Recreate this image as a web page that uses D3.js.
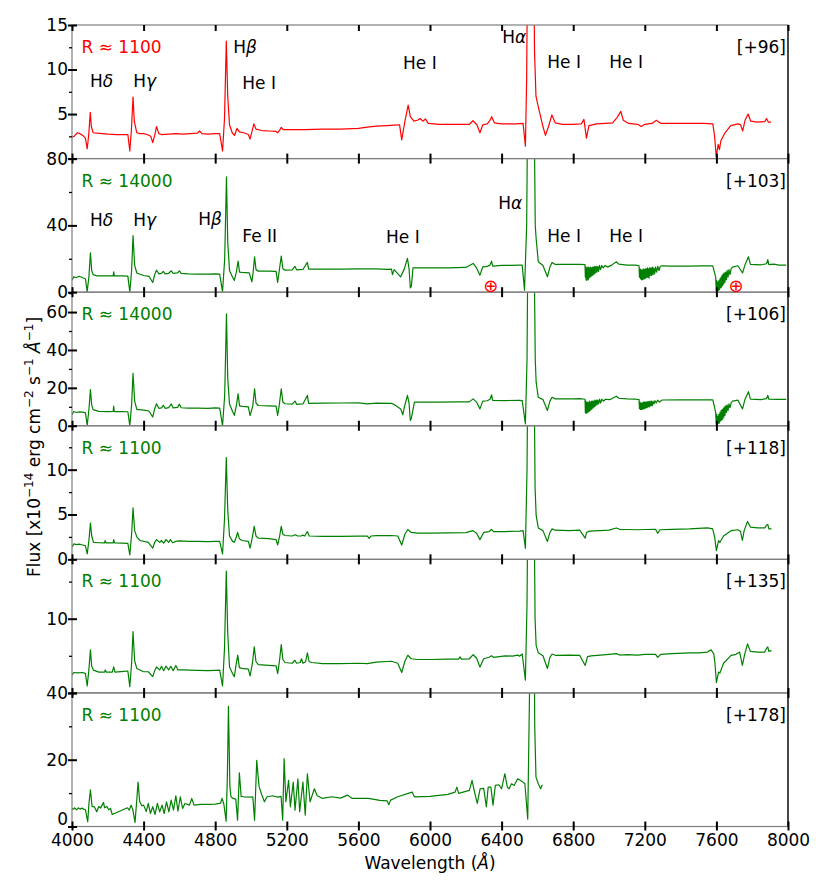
<!DOCTYPE html>
<html><head><meta charset="utf-8">
<script src="https://cdn.jsdelivr.net/npm/d3@7/dist/d3.min.js"></script>
<style>
body{margin:0;background:#fff;}
svg text{font-family:"DejaVu Sans",sans-serif;}
</style></head><body>
<svg id="chart" width="830" height="894"></svg>
<script>
// ---------------- DATA ----------------
const xTicks = [4000,4400,4800,5200,5600,6000,6400,6800,7200,7600,8000];
const resLabels = ["R \u2248 1100","R \u2248 14000","R \u2248 14000","R \u2248 1100","R \u2248 1100","R \u2248 1100"];
const epochLabels = ["[+96]","[+103]","[+106]","[+118]","[+135]","[+178]"];
const yMax = [15, 80, 70.5, 14.9, 18, 40];
const yMajor = [[0,5,10,15],[0,40,80],[0,20,40,60],[0,5,10],[0,10],[0,20,40]];
const yMinor = [[2.5,7.5,12.5],[20,60],[10,30,50,70],[2.5,7.5,12.5],[5,15],[10,30]];
const telluricWl = [6340, 7710];

const spec96 = [[4000,2.4],[4012,2.5],[4030,2.9],[4045,2.8],[4060,2.6],[4075,2.3],[4085,1.1],[4094,2.8],[4102,5.2],[4108,3.6],[4118,2.9],[4140,2.85],[4170,2.8],[4200,2.75],[4250,2.7],[4290,2.7],[4312,2.7],[4323,0.85],[4332,3.3],[4341,6.9],[4348,4.2],[4362,2.9],[4380,2.8],[4400,2.8],[4420,2.7],[4440,2.5],[4451,1.8],[4462,2.6],[4472,3.6],[4485,2.8],[4500,2.7],[4540,2.75],[4580,2.8],[4620,2.75],[4660,2.8],[4700,2.85],[4713,3.1],[4725,2.8],[4760,2.75],[4800,2.8],[4825,2.8],[4841,0.85],[4852,4.5],[4862,13.2],[4870,7.0],[4880,3.8],[4895,2.9],[4908,2.6],[4922,3.4],[4935,3.0],[4960,2.9],[4985,2.7],[4995,2.2],[5005,3.0],[5016,3.9],[5028,3.3],[5060,3.15],[5100,3.1],[5140,3.05],[5150,2.9],[5160,3.2],[5169,3.5],[5180,3.25],[5220,3.25],[5300,3.25],[5400,3.3],[5500,3.3],[5600,3.4],[5660,3.55],[5700,3.65],[5760,3.7],[5800,3.75],[5830,3.8],[5842,2.1],[5860,4.2],[5878,6.0],[5890,4.7],[5910,4.2],[5930,4.3],[5945,4.5],[5960,4.2],[5975,4.45],[5990,3.95],[6050,3.85],[6150,3.85],[6220,3.85],[6240,4.25],[6262,3.8],[6279,2.9],[6295,3.8],[6320,3.9],[6335,4.3],[6345,4.7],[6360,4.0],[6400,3.9],[6480,3.9],[6520,3.95],[6533,1.4],[6540,9],[6546,25],[6578,25],[6584,12],[6592,7.0],[6605,5.8],[6618,4.7],[6631,3.6],[6645,2.6],[6662,3.6],[6681,4.9],[6700,4.0],[6740,3.85],[6800,3.85],[6845,3.9],[6860,4.4],[6874,2.3],[6888,3.7],[6930,3.9],[6980,3.95],[7020,4.0],[7045,4.6],[7066,5.3],[7080,4.3],[7110,3.95],[7160,3.85],[7180,3.6],[7200,3.85],[7240,3.95],[7265,4.3],[7290,3.95],[7350,3.95],[7450,3.95],[7530,3.95],[7580,3.9],[7590,2.5],[7599,0.2],[7610,1.6],[7617,1.0],[7625,2.0],[7645,2.8],[7680,3.7],[7720,3.9],[7735,3.8],[7747,3.1],[7760,4.3],[7777,5.0],[7792,4.2],[7830,4.1],[7870,4.15],[7880,4.5],[7890,4.1],[7905,4.1]];

const spec103 = [[4000,7.2],[4010,9.2],[4025,8.8],[4040,9.5],[4060,8.6],[4075,8.0],[4085,0.3],[4095,10],[4103,23.6],[4110,13],[4118,10.5],[4140,9.8],[4180,9.8],[4200,9.7],[4230,9.8],[4233,12.2],[4236,9.8],[4280,9.7],[4312,9.6],[4323,0.2],[4333,13],[4341,33.9],[4350,16],[4362,11.5],[4400,10],[4430,9.5],[4451,5.8],[4462,10.5],[4472,13.2],[4485,11.0],[4500,11.2],[4510,12.5],[4520,11],[4540,11.3],[4555,12.8],[4565,11.2],[4590,11.5],[4600,12.8],[4610,11.3],[4650,11],[4700,10.8],[4760,10.8],[4800,11],[4825,10.8],[4841,0.2],[4853,20],[4863,69],[4870,30],[4880,13],[4897,9.0],[4907,7.0],[4918,12],[4928,18.6],[4936,12],[4950,11.8],[4990,11.6],[5005,6.2],[5012,12],[5020,21.2],[5028,13.5],[5041,12.6],[5100,12.6],[5140,12.4],[5149,5.8],[5158,13],[5169,21.6],[5178,14],[5190,13.2],[5230,13.4],[5245,15.5],[5255,13.4],[5290,13.6],[5315,17.8],[5322,13.8],[5400,13.8],[5500,13.8],[5600,14],[5700,14],[5760,13.6],[5785,13.8],[5790,10.5],[5800,13.5],[5836,9.2],[5856,13.8],[5874,20.2],[5883,14],[5890,2.6],[5896,3.5],[5905,14.5],[5940,14.6],[6000,14.6],[6100,14.6],[6200,14.8],[6241,17.2],[6260,14.5],[6279,10.2],[6295,15.2],[6320,15.4],[6335,16.2],[6344,18.6],[6350,15.6],[6400,16],[6450,16],[6500,16.2],[6515,16.2],[6528,1.2],[6540,40],[6547,130],[6580,130],[6588,40],[6593,32],[6605,18.2],[6631,16],[6656,9.2],[6670,15],[6682,17.8],[6700,16.6],[6780,16.6],[6836,16.6],[6866,16.5],[6868,9],[6870,15],[6872,7.5],[6874,14],[6876,7],[6878,15],[6880,8],[6882,14],[6884,7.5],[6886,15],[6888,8.5],[6891,14.5],[6894,9],[6897,15],[6900,9.5],[6903,14.5],[6906,10],[6909,15],[6912,10.5],[6915,15],[6918,11],[6921,15.5],[6925,11.5],[6929,15.5],[6933,12],[6937,15.5],[6942,12.5],[6947,16],[6953,13.5],[6960,16],[6968,14.5],[6978,16],[6992,15],[7015,16.2],[7041,18.2],[7055,16.8],[7100,16.2],[7150,16.2],[7168,15.8],[7170,9],[7173,14],[7176,8],[7179,13.5],[7182,7.5],[7185,13],[7188,7.5],[7191,14],[7194,8],[7197,13.5],[7200,8],[7203,14],[7206,8.5],[7209,14],[7212,9],[7215,14.5],[7218,9],[7221,14],[7224,8.5],[7227,14.5],[7230,10],[7234,14.5],[7238,10],[7242,15],[7246,10.5],[7250,14.5],[7255,11],[7260,15],[7266,12],[7272,15.5],[7279,13],[7287,15.5],[7297,15.8],[7350,15.6],[7450,15.6],[7520,15.8],[7580,15.8],[7596,9],[7599,1],[7602,7],[7605,0.5],[7608,6],[7611,1],[7614,7],[7617,1.5],[7620,8],[7623,2.5],[7626,9],[7629,3],[7632,10],[7635,4],[7638,11],[7641,5],[7644,11.5],[7648,6],[7652,12],[7656,7.5],[7660,13],[7665,9],[7670,13.5],[7676,10.5],[7682,14],[7690,15],[7720,15.8],[7746,11.5],[7760,16.5],[7779,21.2],[7790,16.6],[7850,16.4],[7880,17],[7887,19.5],[7893,16.5],[7920,16.8],[7950,16.2],[7990,16.2]];

const spec106 = [[4000,5.8],[4010,7.5],[4025,7.0],[4040,7.3],[4060,7.2],[4075,6.8],[4085,0.2],[4095,9],[4103,19.1],[4110,11],[4118,8.5],[4150,7.6],[4200,7.5],[4230,7.6],[4233,10.4],[4236,7.5],[4280,7.5],[4312,7.4],[4323,0.1],[4333,11],[4341,27.7],[4350,13],[4362,8.6],[4400,8.2],[4430,7.8],[4451,4.6],[4462,9],[4472,11.6],[4485,9.2],[4500,9.4],[4510,10.8],[4520,9.2],[4540,9.6],[4555,11.5],[4565,9.4],[4590,9.7],[4600,11.4],[4610,9.5],[4650,9.3],[4700,9.3],[4760,9.2],[4800,9.4],[4825,9.3],[4841,0.1],[4853,16],[4863,59],[4870,25],[4880,11.5],[4897,7.5],[4907,5.5],[4918,10.5],[4928,16.8],[4936,10.5],[4950,10.2],[4985,10],[4995,5.4],[5010,10.5],[5020,19.5],[5028,12],[5041,10.7],[5100,10.5],[5140,10.4],[5149,5.4],[5158,11],[5169,19.5],[5178,12.5],[5190,11.6],[5230,11.4],[5246,13],[5255,11.3],[5290,11.5],[5315,16],[5322,11.8],[5400,11.9],[5500,12],[5600,12.1],[5650,11.5],[5700,11.9],[5785,11.8],[5800,11.2],[5836,8.9],[5848,5.8],[5856,9.5],[5874,16],[5883,12],[5890,2.8],[5896,4],[5913,12.5],[5950,12.5],[6050,12.5],[6150,12.6],[6220,12.6],[6241,14.2],[6260,12.5],[6279,8.9],[6295,13],[6320,13.2],[6335,14],[6344,16.3],[6350,13.4],[6420,13.3],[6500,13.4],[6515,13.3],[6533,1],[6542,35],[6548,110],[6580,110],[6588,35],[6593,23],[6605,15],[6631,13.8],[6656,8.1],[6670,13],[6682,15],[6700,14.2],[6800,14.2],[6836,14.3],[6866,14],[6868,7],[6870,13],[6872,6.5],[6874,12.5],[6876,6.8],[6878,12],[6880,7],[6882,12.5],[6884,7.5],[6886,12],[6888,7.5],[6891,13],[6894,8],[6897,12.5],[6900,8.5],[6903,13],[6906,9],[6909,13],[6912,9.5],[6915,13],[6918,10],[6921,13.5],[6925,10.5],[6929,13.5],[6933,11],[6937,13.5],[6942,11.5],[6947,14],[6953,12],[6960,14],[6970,13],[6980,14],[7000,13.8],[7015,14.2],[7041,15.6],[7055,14.5],[7100,14.2],[7150,14],[7168,13.8],[7170,9],[7173,12.5],[7176,8.6],[7179,12],[7182,8.6],[7185,12],[7188,8.8],[7191,12.5],[7194,9],[7197,12.5],[7200,9],[7203,12.5],[7206,9.5],[7209,12.5],[7212,9.5],[7215,12.8],[7218,10],[7221,12.8],[7225,10],[7229,13],[7233,10.5],[7237,13],[7241,10.5],[7246,13],[7251,11.5],[7257,13.2],[7264,12],[7272,13.5],[7282,12.5],[7297,13.6],[7400,13.7],[7500,13.7],[7580,13.7],[7596,7],[7599,1],[7602,6],[7605,0.8],[7608,5],[7611,1.2],[7614,6],[7617,1.5],[7620,7],[7623,2.5],[7626,8],[7629,3],[7632,8.5],[7635,3.5],[7638,9],[7641,4.5],[7644,10],[7648,5.5],[7652,10.5],[7656,7],[7660,11],[7665,8],[7670,11.5],[7676,9.5],[7682,12],[7690,13],[7720,13.5],[7746,8.9],[7760,14],[7779,18],[7790,14],[7850,13.8],[7880,14.3],[7887,16],[7893,14],[7940,13.9],[7990,13.9]];

const spec118 = [[4000,1.35],[4010,1.72],[4025,1.65],[4040,1.7],[4060,1.6],[4075,1.5],[4085,0.6],[4095,2.2],[4103,4.05],[4110,2.6],[4120,1.9],[4150,1.85],[4182,1.83],[4185,2.1],[4190,1.83],[4230,1.83],[4233,2.2],[4238,1.83],[4280,1.8],[4312,1.78],[4323,0.49],[4333,2.8],[4341,5.73],[4350,3.2],[4362,2.5],[4380,2.1],[4426,1.9],[4451,1.24],[4462,1.9],[4472,2.2],[4490,1.9],[4500,2.1],[4512,1.8],[4525,2.2],[4540,1.9],[4550,2.2],[4562,1.85],[4580,2.0],[4600,2.05],[4650,2.0],[4700,2.0],[4760,1.98],[4800,2.0],[4825,2.0],[4841,0.6],[4852,4.5],[4862,11.35],[4870,5.5],[4880,2.6],[4897,2.0],[4907,1.9],[4918,2.5],[4925,3.0],[4935,2.3],[4950,2.1],[4985,2.0],[4995,1.24],[5008,2.5],[5018,3.67],[5028,2.6],[5041,2.36],[5100,2.3],[5140,2.2],[5149,1.6],[5160,2.6],[5169,3.67],[5178,2.8],[5190,2.66],[5230,2.6],[5248,2.75],[5260,2.6],[5280,2.6],[5290,2.7],[5300,2.6],[5315,3.1],[5325,2.6],[5400,2.55],[5500,2.55],[5600,2.58],[5650,2.6],[5660,2.35],[5670,2.6],[5700,2.65],[5785,2.66],[5820,2.6],[5842,1.6],[5860,2.8],[5876,3.33],[5895,3.0],[5930,2.92],[6000,2.92],[6100,2.95],[6200,2.98],[6240,3.2],[6260,2.9],[6279,2.2],[6300,3.0],[6330,3.1],[6344,3.33],[6355,3.1],[6420,3.1],[6500,3.15],[6520,3.2],[6533,1.24],[6542,10],[6548,25],[6580,25],[6587,8],[6593,4.9],[6605,3.5],[6631,3.2],[6656,2.0],[6670,3.0],[6682,3.4],[6700,3.25],[6780,3.2],[6836,3.25],[6867,2.36],[6875,3.0],[6890,3.15],[6950,3.2],[7000,3.25],[7041,3.5],[7060,3.35],[7100,3.33],[7160,3.3],[7200,3.33],[7260,3.35],[7272,2.9],[7285,3.3],[7350,3.35],[7450,3.4],[7500,3.45],[7550,3.5],[7579,3.4],[7590,2.5],[7600,0.97],[7612,2.1],[7620,1.9],[7640,2.6],[7682,3.2],[7720,3.3],[7735,3.1],[7745,2.1],[7755,3.2],[7774,4.23],[7790,3.6],[7830,3.5],[7870,3.5],[7880,3.8],[7887,3.9],[7893,3.4],[7908,3.4]];

const spec135 = [[4000,2.4],[4010,2.75],[4030,2.7],[4060,2.75],[4075,2.6],[4085,0.93],[4095,3.3],[4103,5.8],[4110,3.6],[4120,3.07],[4150,2.8],[4182,2.8],[4186,3.1],[4192,2.8],[4225,2.8],[4233,3.5],[4240,2.8],[4290,2.9],[4312,2.95],[4323,0.84],[4333,4.0],[4341,8.27],[4350,4.3],[4362,3.3],[4400,2.85],[4426,2.85],[4451,2.2],[4462,3.0],[4472,3.5],[4490,3.1],[4500,3.6],[4512,3.0],[4525,3.6],[4540,3.1],[4552,3.6],[4565,3.0],[4580,3.7],[4592,3.1],[4620,3.1],[4660,3.07],[4700,3.05],[4760,3.0],[4800,3.05],[4825,3.07],[4841,0.93],[4852,6],[4862,16.4],[4870,8],[4880,3.5],[4897,2.6],[4907,2.2],[4918,4.0],[4926,5.1],[4935,3.4],[4950,3.3],[4985,3.2],[4995,2.3],[5008,4.0],[5018,6.2],[5028,4.2],[5041,3.8],[5100,3.7],[5140,3.65],[5149,2.6],[5160,4.5],[5169,6.5],[5178,4.5],[5190,4.1],[5230,4.0],[5245,4.4],[5255,4.0],[5275,4.1],[5282,4.6],[5290,4.0],[5305,4.2],[5315,5.4],[5325,4.2],[5340,4.1],[5400,3.95],[5500,3.95],[5600,4.0],[5650,3.95],[5700,4.15],[5785,4.27],[5820,4.0],[5842,2.75],[5860,4.3],[5876,5.07],[5895,4.6],[5930,4.5],[6000,4.5],[6100,4.55],[6160,4.55],[6168,4.85],[6176,4.55],[6220,4.6],[6241,5.15],[6260,4.7],[6279,3.5],[6300,4.6],[6330,4.8],[6344,5.0],[6355,4.8],[6420,5.0],[6460,4.95],[6490,5.1],[6500,4.95],[6515,5.25],[6533,1.73],[6542,12],[6548,30],[6580,30],[6587,10],[6593,6.4],[6605,5.4],[6631,5.0],[6656,3.3],[6670,4.8],[6682,5.24],[6700,5.07],[6780,5.1],[6836,5.07],[6867,3.7],[6880,4.9],[6900,5.0],[6950,5.1],[7000,5.2],[7041,5.3],[7060,5.1],[7100,5.15],[7160,5.1],[7200,5.2],[7260,5.2],[7272,4.8],[7290,5.2],[7350,5.3],[7450,5.4],[7500,5.4],[7550,5.5],[7570,5.8],[7585,5.3],[7592,4.0],[7600,1.4],[7612,2.8],[7620,2.7],[7640,4.0],[7682,5.07],[7710,5.2],[7730,5.5],[7745,3.7],[7758,5.2],[7774,6.6],[7790,5.6],[7830,5.5],[7870,5.5],[7880,6.0],[7887,6.2],[7893,5.6],[7908,5.7]];

const spec178 = [[4000,5.4],[4008,5.2],[4015,5.6],[4025,5.0],[4035,5.6],[4045,5.2],[4055,5.5],[4065,5.2],[4075,5.0],[4088,1.4],[4094,6.5],[4103,11.0],[4112,6.0],[4125,5.9],[4138,4.4],[4150,6.0],[4160,5.5],[4168,6.4],[4176,7.2],[4182,5.6],[4195,6.0],[4205,5.0],[4215,5.4],[4225,3.6],[4300,5.4],[4310,5.6],[4320,4.9],[4330,6.4],[4340,5.0],[4352,1.2],[4362,8],[4369,13.3],[4378,7.5],[4390,6.2],[4400,6.4],[4415,4.5],[4426,6.9],[4438,3.9],[4451,5.9],[4464,3.6],[4477,6.9],[4490,4.4],[4503,6.4],[4515,3.9],[4528,7.4],[4541,4.4],[4554,7.9],[4567,4.9],[4580,9.15],[4592,4.6],[4605,8.9],[4618,5.4],[4631,6.9],[4656,6.4],[4669,8.4],[4682,6.4],[4720,6.6],[4760,6.6],[4800,6.7],[4830,7.0],[4838,8.4],[4848,6.8],[4861,1.6],[4868,15],[4874,36],[4882,12],[4888,8.9],[4900,8.4],[4915,8.2],[4925,1.9],[4935,16.1],[4945,9],[4960,8.9],[5000,8.8],[5010,8.9],[5020,1.9],[5032,19.8],[5045,12],[5060,9.5],[5075,7.4],[5090,8.9],[5120,9.2],[5150,8.8],[5168,9.0],[5177,1.9],[5185,20.3],[5195,7.4],[5210,13.8],[5220,5.9],[5236,13.3],[5246,4.9],[5262,14.3],[5272,4.4],[5290,13.3],[5303,3.4],[5315,15.8],[5330,7.4],[5354,11.3],[5370,9.2],[5400,8.4],[5450,8.9],[5500,8.5],[5540,9.4],[5565,8.4],[5600,8.4],[5656,8.4],[5720,7.8],[5760,7.7],[5770,6.5],[5780,7.9],[5820,8.9],[5900,10.3],[5913,8.9],[6000,9.0],[6100,9.6],[6140,10.3],[6150,11.8],[6160,9.9],[6220,10.8],[6235,13.8],[6245,11.3],[6255,8.9],[6264,6.9],[6280,11.3],[6300,11.4],[6315,5.9],[6325,11.8],[6340,11.8],[6352,6.4],[6365,12.3],[6385,12.5],[6400,11.3],[6418,15.8],[6432,11.8],[6442,11.3],[6455,12.8],[6470,12.3],[6490,14.3],[6515,13.5],[6530,12.8],[6546,2.2],[6556,40],[6560,90],[6580,90],[6585,30],[6592,14.8],[6605,12.8],[6618,11.3],[6625,12.3],[6630,12.3]];

const spectra = [spec96, spec103, spec106, spec118, spec135, spec178];
const colors = ["#ff0000","#008000","#008000","#008000","#008000","#008000"];

// line identifications: [panel, text, greek(italic), x px, baseline offset from panel top]
const lineIds = [
  [0,"H","\u03b4",90,62],[0,"H","\u03b3",133.3,62],[0,"H","\u03b2",233.3,28],[0,"He I","",242.3,64],
  [0,"He I","",403,44],[0,"H","\u03b1",502.3,18],[0,"He I","",547.3,42.5],[0,"He I","",609.3,42.5],
  [1,"H","\u03b4",90,67.5],[1,"H","\u03b3",133.3,67.5],[1,"H","\u03b2",198.3,66.5],[1,"Fe II","",242.3,83.5],
  [1,"He I","",386,84.5],[1,"H","\u03b1",498.3,50],[1,"He I","",547.3,83.5],[1,"He I","",609.3,83.5]
];

// ---------------- LAYOUT ----------------
const svg = d3.select('#chart');
const X0 = 72, X1 = 788, TOP = 25, BOT = 826.5;
const NP = 6, PH = (BOT - TOP) / NP;
const FS = 17;
const x = d3.scaleLinear().domain([4000, 8000]).range([X0, X1]);
const defs = svg.append('defs');
const yScales = [];

spectra.forEach((spec, i) => {
  const top = TOP + i * PH, bot = top + PH;
  const y = d3.scaleLinear().domain([0, yMax[i]]).range([bot, top]);
  yScales.push(y);
  defs.append('clipPath').attr('id', 'clip' + i).append('rect')
    .attr('x', X0).attr('y', top).attr('width', X1 - X0).attr('height', PH);
  const line = d3.line().x(d => x(d[0])).y(d => y(d[1]));
  svg.append('path').datum(spec).attr('clip-path', `url(#clip${i})`)
    .attr('d', line).attr('fill', 'none').attr('stroke', colors[i])
    .attr('stroke-width', 1.2).attr('stroke-linejoin', 'round');
});

// frames
spectra.forEach((spec, i) => {
  const top = TOP + i * PH;
  svg.append('rect').attr('x', X0).attr('y', top).attr('width', X1 - X0).attr('height', PH)
    .attr('fill', 'none').attr('stroke', '#7f7f7f').attr('stroke-width', 1.2);
});
svg.append('line').attr('x1', X1).attr('x2', X1).attr('y1', TOP).attr('y2', BOT)
  .attr('stroke', '#000').attr('stroke-width', 1.2);

// axes
spectra.forEach((spec, i) => {
  const top = TOP + i * PH, bot = top + PH;
  const y = yScales[i];
  const nextTopLabelled = i < NP - 1 && yMajor[i + 1].includes(yMax[i + 1]);
  const fmt = d => (d === 0 && nextTopLabelled) ? '' : d3.format('d')(d);
  const ay = svg.append('g').attr('transform', `translate(${X0},0)`)
    .call(d3.axisLeft(y).tickValues(yMajor[i]).tickSize(0).tickPadding(4).tickFormat(fmt));
  ay.attr('font-size', FS).attr('font-family', '"DejaVu Sans", sans-serif');
  ay.select('.domain').remove();
  ay.selectAll('.tick line').attr('x1', -4).attr('x2', 5).attr('stroke', '#000').attr('stroke-width', 2);
  ay.selectAll('.tick text').attr('fill', '#000');
  if (i === NP - 1) ay.selectAll('.tick text').filter(d => d === 0).attr('dy', '-0.1em');
  const am = svg.append('g').attr('transform', `translate(${X0},0)`)
    .call(d3.axisLeft(y).tickValues(yMinor[i]).tickSize(3).tickFormat(''));
  am.select('.domain').remove();
  am.selectAll('.tick line').attr('stroke', '#000').attr('stroke-width', 1.3);
  const ax = svg.append('g').attr('transform', `translate(0,${bot})`)
    .call(d3.axisBottom(x).tickValues(xTicks).tickSize(0).tickPadding(7)
      .tickFormat(i === NP - 1 ? d3.format('d') : ''));
  ax.attr('font-size', FS).attr('font-family', '"DejaVu Sans", sans-serif');
  ax.select('.domain').remove();
  ax.selectAll('.tick line').attr('y1', -5).attr('y2', i === NP - 1 ? 4 : 5)
    .attr('stroke', '#000').attr('stroke-width', 2);
  ax.selectAll('.tick text').attr('fill', '#000');
  if (i === 0) {
    const at = svg.append('g').attr('transform', `translate(0,${top})`)
      .call(d3.axisTop(x).tickValues(xTicks).tickSize(0).tickFormat(''));
    at.select('.domain').remove();
    at.selectAll('.tick line').attr('y1', 0).attr('y2', 6).attr('stroke', '#000').attr('stroke-width', 2);
  }
  svg.append('text').attr('x', 81.5).attr('y', top + 28).attr('font-size', FS)
    .attr('fill', colors[i]).text(resLabels[i]);
  svg.append('text').attr('x', 786).attr('y', top + 28).attr('font-size', FS)
    .attr('text-anchor', 'end').attr('fill', '#000').text(epochLabels[i]);
});

// line identifications
lineIds.forEach(([p, t, g, px, off]) => {
  const top = TOP + p * PH;
  const tx = svg.append('text').attr('x', px).attr('y', top + off).attr('font-size', FS).attr('fill', '#000');
  tx.append('tspan').text(t);
  if (g) tx.append('tspan').attr('font-style', 'italic').text(g);
});

// telluric markers
telluricWl.forEach(w => {
  svg.append('text').attr('x', x(w)).attr('y', yScales[1](4)).attr('font-size', 18)
    .attr('text-anchor', 'middle').attr('dominant-baseline', 'central')
    .attr('fill', '#ff0000').text('\u2295');
});

// axis titles
svg.append('text').attr('x', 430).attr('y', 869).attr('font-size', FS).attr('text-anchor', 'middle')
  .call(t => { t.append('tspan').text('Wavelength ('); t.append('tspan').attr('font-style','italic').text('\u00c5'); t.append('tspan').text(')'); });

const yl = svg.append('text').attr('transform', 'translate(40,447) rotate(-90)')
  .attr('font-size', FS).attr('text-anchor', 'middle');
const sup = s => yl.append('tspan').attr('font-size', 12).attr('dy', -7).text(s);
const base = s => yl.append('tspan').attr('font-size', FS).attr('dy', 7).text(s);
yl.append('tspan').text('Flux [x10');
sup('\u221214');
base(' erg cm');
sup('\u22122');
base(' s');
sup('\u22121');
base(' ');
yl.append('tspan').attr('font-style','italic').text('\u00c5');
sup('\u22121');
base(']');
</script>
</body></html>
